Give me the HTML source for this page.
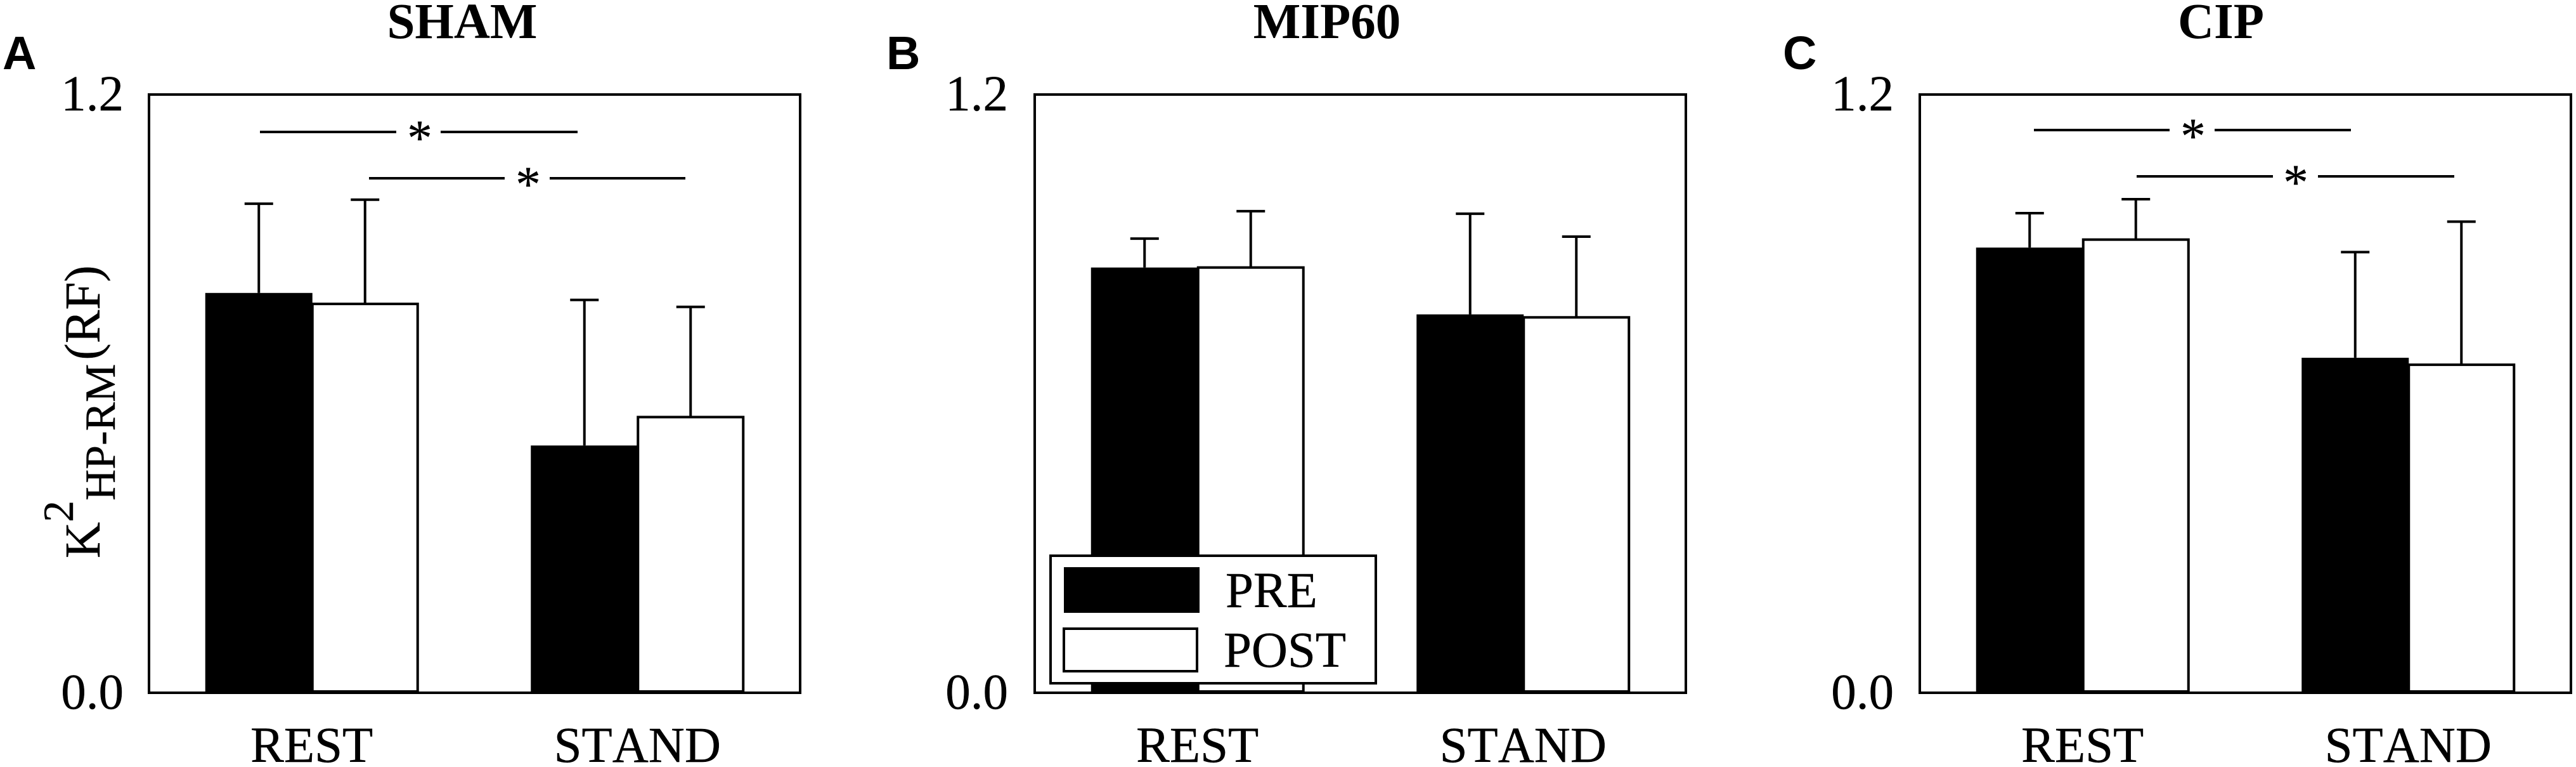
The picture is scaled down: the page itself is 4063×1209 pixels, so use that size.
<!DOCTYPE html>
<html lang="en">
<head>
<meta charset="utf-8">
<title>K2 HP-RM (RF) by condition</title>
<style>
  html, body { margin: 0; padding: 0; background: #fff; width: 4063px; height: 1209px; overflow: hidden; }
  svg { display: block; }
  text { font-family: "Liberation Serif", serif; font-size: 79px; fill: #000; font-kerning: none; stroke: #000; stroke-width: 0.4; }
  .letter { font-family: "Liberation Sans", sans-serif; font-weight: 700; font-size: 74px; stroke-width: 0; }
  .title { font-weight: 700; stroke-width: 0; }
  .frame { fill: none; stroke: #000; stroke-width: 4; }
  .sig { stroke: #000; stroke-width: 4; }
</style>
</head>
<body>
<svg id="figure" xmlns="http://www.w3.org/2000/svg" width="4063" height="1209" viewBox="0 0 4063 1209">
  <rect x="0" y="0" width="4063" height="1209" fill="#fff"/>

  <text class="letter" x="4" y="109">A</text>
  <text class="letter" x="1398" y="109">B</text>
  <text class="letter" x="2812" y="109">C</text>

  <text class="title" x="729" y="60" text-anchor="middle">SHAM</text>
  <text class="title" x="2093" y="60" text-anchor="middle">MIP60</text>
  <text class="title" x="3503" y="60" text-anchor="middle">CIP</text>

  <text transform="translate(157 880) rotate(-90)">K<tspan font-size="68" dy="-42">2</tspan><tspan font-size="68" dy="66">HP-RM</tspan><tspan dy="-24" dx="6">(RF)</tspan></text>

  <g id="panel-sham"></g>
  <g id="panel-mip60"></g>
  <g id="panel-cip"></g>

  <g>
    <line class="sig" x1="410" y1="208" x2="625" y2="208"/>
    <line class="sig" x1="695" y1="208" x2="911" y2="208"/>
    <text x="662" y="244" text-anchor="middle">*</text>
    <line class="sig" x1="582" y1="281" x2="796" y2="281"/>
    <line class="sig" x1="867" y1="281" x2="1081" y2="281"/>
    <text x="833" y="317" text-anchor="middle">*</text>
  </g>
  <g>
    <line class="sig" x1="3208" y1="205" x2="3422" y2="205"/>
    <line class="sig" x1="3493" y1="205" x2="3708" y2="205"/>
    <text x="3459" y="241" text-anchor="middle">*</text>
    <line class="sig" x1="3370" y1="278" x2="3585" y2="278"/>
    <line class="sig" x1="3656" y1="278" x2="3871" y2="278"/>
    <text x="3621" y="314" text-anchor="middle">*</text>
  </g>

  <g>
    <rect x="1657" y="876" width="513" height="201" fill="#fff" stroke="#000" stroke-width="4"/>
    <rect x="1678" y="894" width="214" height="72" fill="#000"/>
    <rect x="1678" y="991" width="210" height="67" fill="#fff" stroke="#000" stroke-width="4"/>
    <text x="1933" y="957">PRE</text>
    <text x="1930" y="1051">POST</text>
  </g>
</svg>

<script>
const categories = ['REST', 'STAND'];
const yTickValues = [0, 1.2];
const yTickLabels = ['0.0', '1.2'];

const shamPre = [0.802, 0.496];
const shamPost = [0.780, 0.553];
const shamPreErr = [0.179, 0.292];
const shamPostErr = [0.209, 0.221];

const mipPre = [0.853, 0.759];
const mipPost = [0.853, 0.753];
const mipPreErr = [0.058, 0.202];
const mipPostErr = [0.113, 0.162];

const cipPre = [0.893, 0.672];
const cipPost = [0.909, 0.658];
const cipPreErr = [0.069, 0.212];
const cipPostErr = [0.081, 0.287];

const PLOT_TOP = 149;
const PLOT_BOTTOM = 1092;
const PLOT_WIDTH = 1027;
const Y_MAX = 1.2;
const BAR_PRE_W = 169;
const BAR_POST_W = 166;
const CAP_W = 45;
const NS = 'http://www.w3.org/2000/svg';

function yScale(v) {
  return PLOT_BOTTOM - (v / Y_MAX) * (PLOT_BOTTOM - PLOT_TOP);
}
function xCenter(left, i) {
  return left + PLOT_WIDTH * (i + 0.5) / categories.length + 1;
}
function make(tag, parent, attrs) {
  const el = document.createElementNS(NS, tag);
  for (const k in attrs) el.setAttribute(k, attrs[k]);
  parent.appendChild(el);
  return el;
}

function drawPanel(id, left, tickRight, pre, post, preErr, postErr) {
  const g = document.getElementById(id);

  categories.forEach(function (cat, i) {
    const c = xCenter(left, i);

    const preTop = yScale(pre[i]);
    const preBar = make('rect', g, { x: c - BAR_PRE_W, y: preTop, width: BAR_PRE_W, height: PLOT_BOTTOM - preTop, fill: '#000' });
    
    

    const postTop = yScale(post[i]);
    const postBar = make('rect', g, { x: c, y: postTop, width: BAR_POST_W, height: PLOT_BOTTOM - 2 - postTop, fill: '#fff', stroke: '#000', 'stroke-width': 4 });
    
    

    const preX = c - BAR_PRE_W / 2;
    const preErrTop = yScale(pre[i] + preErr[i]);
    const preStem = make('line', g, { x1: preX, x2: preX, y1: preTop, y2: preErrTop, stroke: '#000', 'stroke-width': 4 });
    
    
    const preCap = make('line', g, { x1: preX - CAP_W / 2, x2: preX + CAP_W / 2, y1: preErrTop, y2: preErrTop, stroke: '#000', 'stroke-width': 4 });
    
    

    const postX = c + BAR_POST_W / 2;
    const postErrTop = yScale(post[i] + postErr[i]);
    const postStem = make('line', g, { x1: postX, x2: postX, y1: postTop, y2: postErrTop, stroke: '#000', 'stroke-width': 4 });
    
    
    const postCap = make('line', g, { x1: postX - CAP_W / 2, x2: postX + CAP_W / 2, y1: postErrTop, y2: postErrTop, stroke: '#000', 'stroke-width': 4 });
    
    

    const label = make('text', g, { x: c - 1, y: 1201, 'text-anchor': 'middle' });
    label.textContent = cat;
    
    
  });

  const frame = make('rect', g, { x: left, y: PLOT_TOP, width: PLOT_WIDTH, height: PLOT_BOTTOM - PLOT_TOP, class: 'frame' });
  
  

  yTickValues.forEach(function (v, i) {
    const tick = make('text', g, { x: tickRight, y: yScale(v) + 25, 'text-anchor': 'end' });
    tick.textContent = yTickLabels[i];
    
    
  });
}

drawPanel('panel-sham', 235, 195, shamPre, shamPost, shamPreErr, shamPostErr);
drawPanel('panel-mip60', 1632, 1590, mipPre, mipPost, mipPreErr, mipPostErr);
drawPanel('panel-cip', 3028, 2987, cipPre, cipPost, cipPreErr, cipPostErr);
</script>
</body>
</html>
